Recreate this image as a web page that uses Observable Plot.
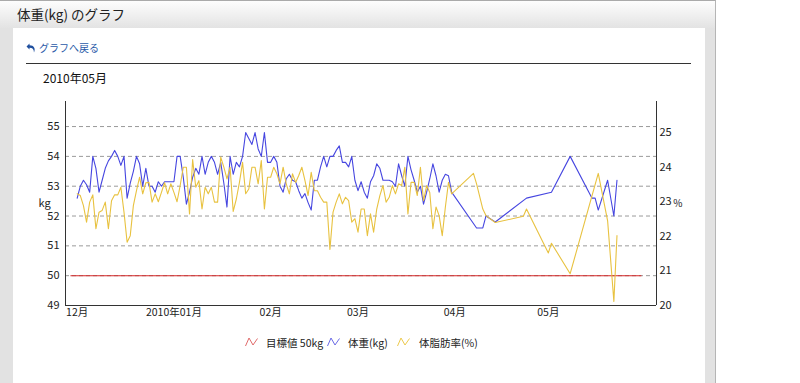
<!DOCTYPE html>
<html><head><meta charset="utf-8">
<script src="https://cdn.jsdelivr.net/npm/d3@7"></script>
<script src="https://cdn.jsdelivr.net/npm/@observablehq/plot@0.6"></script>
<style>
html,body{margin:0;padding:0;background:#fff;}
body{width:800px;height:383px;overflow:hidden;position:relative;font-family:"Noto Sans CJK JP","Noto Sans",sans-serif;}
#frame{position:absolute;left:0;top:0;width:715px;height:400px;background:#e2e2e2;border-top:1px solid #aaa;border-right:1px solid #b5b5b5;}
#header{position:absolute;left:0;top:1px;width:715px;height:27px;background:linear-gradient(#fdfdfd,#e3e3e3);}
#title{position:absolute;left:17px;top:4px;font-size:13.5px;color:#222;white-space:nowrap;}
#panel{position:absolute;left:13px;top:28px;width:692px;height:380px;background:#fff;}
#back{position:absolute;left:26px;top:40px;font-size:10px;color:#2a5aa8;white-space:nowrap;display:flex;align-items:center;gap:3px;}
#rule{position:absolute;left:26px;top:63px;width:665px;height:0;border-top:1.5px solid #333;}
#month{position:absolute;left:43px;top:69px;font-size:12px;color:#111;white-space:nowrap;}
#chart{position:absolute;left:0;top:90px;width:720px;height:240px;}
#chart svg{position:absolute;left:0;top:0;}
.lg{position:absolute;top:335px;font-size:10.5px;color:#222;white-space:nowrap;}
.lgi{position:absolute;top:337px;}
</style></head>
<body>
<div id="frame"></div>
<div id="header"></div>
<div id="title">体重(kg) のグラフ</div>
<div id="panel"></div>
<div id="back"><svg width="10" height="10" viewBox="0 0 10 10"><path d="M3.5 0.5 L0.5 3.5 L3.5 6.5 L3.5 4.8 C6.5 4.8 7.8 6.2 8 9.5 C9.8 5.5 8 2.2 3.5 2.2 Z" fill="#1f4f9e"/></svg><span>グラフへ戻る</span></div>
<div id="rule"></div>
<div id="month">2010年05月</div>
<div id="chart"></div>
<svg class="lgi" style="left:245px" width="13" height="10"><polyline points="0.5,9 4,1 8,8 12.5,1.5" fill="none" stroke="#e06a6a" stroke-width="1"/></svg>
<div class="lg" style="left:266px">目標値 50kg</div>
<svg class="lgi" style="left:327px" width="13" height="10"><polyline points="0.5,9 4,1 8,8 12.5,1.5" fill="none" stroke="#6a6ae6" stroke-width="1"/></svg>
<div class="lg" style="left:348px">体重(kg)</div>
<svg class="lgi" style="left:397px" width="13" height="10"><polyline points="0.5,9 4,1 8,8 12.5,1.5" fill="none" stroke="#ecc94c" stroke-width="1"/></svg>
<div class="lg" style="left:419px">体脂肪率(%)</div>
<script>
// ---- data ----
const dailyStart = "2009-12-01";
const dailyWeight = [
52.6,53.0,53.2,53.05,52.8,54.0,53.6,52.8,53.2,53.6,
53.85,54.0,54.2,54.0,53.7,54.0,52.6,53.1,53.5,54.0,
53.75,53.0,53.6,53.0,53.0,52.8,53.15,53.0,53.15,53.15,
53.15,53.15,54.0,54.0,53.3,52.4,52.8,53.3,53.6,53.4,
54.0,53.4,53.8,54.0,53.8,53.4,53.8,53.1,52.3,54.0,
53.4,53.8,53.65,54.0,54.8,54.6,54.4,54.8,54.25,54.0,
54.8,53.8,53.8,54.0,53.8,53.0,52.8,53.25,53.4,53.2,
53.15,52.85,52.6,52.75,52.45,52.2,53.2,53.2,53.65,54.0,
53.65,54.0,54.0,54.2,54.35,53.8,53.8,53.65,54.0,53.2,
52.85,53.15,52.8,52.6,53.15,53.35,53.75,53.6,53.2,53.2,
53.2,53.15,53.0,53.75,53.35,53.0,54.0,53.55,53.2,52.8,
53.0,52.4,52.8,53.25,53.75,53.35,52.8,53.2,53.4,53.35,
52.8];
const dailyFat = [
23.23,23.18,22.89,22.41,22.99,23.2,22.22,22.7,22.75,22.99,
22.22,23.03,23.2,23.2,23.42,22.7,21.83,22.02,22.89,23.32,
23.71,23.23,23.55,23.56,22.99,23.23,23.0,23.27,23.55,23.23,
23.52,23.27,23.0,23.47,24.0,24.0,22.65,24.22,23.42,23.61,
22.79,23.42,23.23,23.42,22.99,22.99,24.29,24.0,23.66,24.0,
22.72,23.08,23.56,24.14,23.23,23.37,24.0,24.0,23.52,24.19,
22.79,23.71,23.71,24.0,23.81,23.52,24.0,23.52,23.23,23.81,
23.56,23.76,24.0,23.61,23.18,23.85,23.32,23.32,23.13,22.99,
22.99,21.62,22.7,22.99,23.23,22.94,23.13,23.03,22.41,22.51,
22.12,22.79,22.79,22.02,22.65,22.12,22.79,23.18,23.47,22.99,
23.13,23.47,23.23,23.52,23.47,24.0,22.65,23.56,23.56,23.18,
24.0,23.03,23.47,23.27,22.22,22.85,22.6,22.02,22.85,23.56,
23.23];
const laterDates  = ["2010-04-07","2010-04-08","2010-04-10","2010-04-11","2010-04-14","2010-04-23","2010-04-24","2010-05-01","2010-05-02","2010-05-08","2010-05-15","2010-05-16","2010-05-17","2010-05-20","2010-05-22","2010-05-23"];
const laterWeight = [null,51.6,51.6,52.0,51.8,null,52.6,null,52.8,54.0,52.6,52.6,52.2,53.2,52.0,53.2];
const laterFat    = [23.82,23.52,22.79,22.6,22.4,22.58,22.79,21.52,21.8,20.92,null,null,23.82,22.45,20.12,22.02];
const targetKg = 50;
const targetSpan = ["2009-11-29","2010-05-31"];
const xDomain = ["2009-11-27T06:00Z","2010-06-04T16:00Z"];
const kgTicks = [49,50,51,52,53,54,55];
const kgGrid = [50,51,52,53,54,55];
const kgDomain = [49,55.84];
const fatTicks = [20,21,22,23,24,25];
const fatDomain = [20,25.9];
const monthTicks = ["2009-12-01","2010-01-01","2010-02-01","2010-03-01","2010-04-01","2010-05-01"];
const monthLabels = ["12月","2010年01月","02月","03月","04月","05月"];

// ---- build ----
const dayMs = 86400000;
const t0 = +new Date(dailyStart);
const weightData = [], fatData = [];
dailyWeight.forEach((w,i)=>weightData.push({date:new Date(t0+i*dayMs), v:w}));
dailyFat.forEach((f,i)=>fatData.push({date:new Date(t0+i*dayMs), v:f}));
laterDates.forEach((d,i)=>{
  if (laterWeight[i]!=null) weightData.push({date:new Date(d), v:laterWeight[i]});
  if (laterFat[i]!=null) fatData.push({date:new Date(d), v:laterFat[i]});
});
const xd = xDomain.map(d=>new Date(d));
const mt = monthTicks.map(d=>new Date(d));
const W = 720, H = 240;
const common = {
  width: W, height: H, marginLeft: 65, marginRight: W-656, marginTop: 11, marginBottom: 25,
  style: {fontFamily:'"Noto Sans CJK JP","Noto Sans",sans-serif', fontSize:"11px", color:"#222", background:"transparent", overflow:"visible"}
};
const p1 = Plot.plot({
  ...common,
  x: {type:"utc", domain: xd},
  y: {domain: kgDomain, label: null},
  marks: [
    Plot.ruleY(kgGrid, {stroke:"#9a9a9a", strokeDasharray:"4,3"}),
    Plot.ruleY([{y:targetKg, x1:new Date(targetSpan[0]), x2:new Date(targetSpan[1])}], {y:"y", x1:"x1", x2:"x2", stroke:"#d42424", strokeWidth:1.1}),
    Plot.line(weightData, {x:"date", y:"v", stroke:"#4646e0", strokeWidth:1.1}),
    Plot.ruleX(xd, {stroke:"#333"}),
    Plot.ruleY([kgDomain[0]], {stroke:"#333"}),
    Plot.axisY(kgTicks, {anchor:"left", tickSize:0, tickPadding:6, label:null, fontSize:11}),
    Plot.axisX(mt, {anchor:"bottom", tickSize:0, tickPadding:3, label:null, fontSize:10.5,
      tickFormat: d => monthLabels[mt.findIndex(t=>+t===+d)]}),
    Plot.text(["kg"], {frameAnchor:"left", dx:-27, fontSize:11})
  ]
});
const p2 = Plot.plot({
  ...common,
  x: {type:"utc", domain: xd, axis: null},
  y: {domain: fatDomain, label: null, axis: null},
  marks: [
    Plot.line(fatData, {x:"date", y:"v", stroke:"#e8c240", strokeWidth:1.1}),
    Plot.axisY(fatTicks, {anchor:"right", tickSize:0, tickPadding:3, label:null, fontSize:11}),
    Plot.text(["%"], {frameAnchor:"right", dx:26, fontSize:10})
  ]
});
const c = document.getElementById("chart");
c.appendChild(p1); c.appendChild(p2);
</script>
</body></html>
